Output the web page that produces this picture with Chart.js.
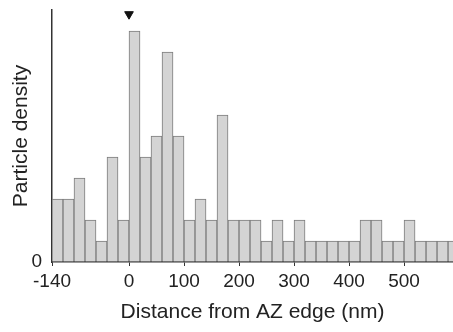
<!DOCTYPE html>
<html>
<head>
<meta charset="utf-8">
<script src="https://cdn.jsdelivr.net/npm/chart.js@4.4.0/dist/chart.umd.min.js"></script>
<style>
  html, body { margin: 0; padding: 0; background: #fff; }
</style>
</head>
<body>
<canvas id="histChart" width="453" height="332"></canvas>
<script>
// histogram bins (nm), each 20 nm wide
const binStarts = [-140, -120, -100, -80, -60, -40, -20, 0, 20, 40, 60, 80, 100, 120, 140, 160, 180, 200, 220,
    240, 260, 280, 300, 320, 340, 360, 380, 400, 420, 440, 460, 480, 500, 520, 540, 560, 580];
const binWidth = 20;
const counts = [3, 3, 4, 2, 1, 5, 2, 11, 5, 6, 10, 6, 2, 3, 2, 7, 2, 2, 2,
    1, 2, 1, 2, 1, 1, 1, 1, 1, 2, 2, 1, 1, 2, 1, 1, 1, 1];
const xTicks = [-140, 0, 100, 200, 300, 400, 500];
const yTicks = [0];
const arrowMarks = [{ x: 0, y: 11.8 }];

const textColor = "#222";
const axisColor = "#333";

// keep the plot area where we put it, ignore label overhang padding
function noPad(s) {
    s.paddingTop = 0;
    s.paddingBottom = 0;
    s.paddingLeft = 0;
    s.paddingRight = 0;
}

const ctx = document.getElementById("histChart").getContext("2d");

new Chart(ctx, {
    type: "bar",
    data: {
        datasets: [{
            type: "bar",
            data: binStarts.map((b, i) => ({ x: b + binWidth / 2, y: counts[i] })),
            backgroundColor: "#d4d4d4",
            borderColor: "#7c7c7c",
            borderWidth: 1,
            barPercentage: 1,
            categoryPercentage: 1
        }, {
            type: "scatter",
            data: arrowMarks,
            pointStyle: "triangle",
            rotation: 180,
            radius: 5,
            backgroundColor: "#111",
            borderColor: "#111",
            borderWidth: 1,
            clip: false
        }]
    },
    options: {
        responsive: false,
        animation: false,
        layout: { autoPadding: false, padding: { top: 10, right: 0, left: 0, bottom: 0 } },
        plugins: {
            legend: { display: false },
            tooltip: { enabled: false }
        },
        scales: {
            x: {
                type: "linear",
                offset: false,
                min: -140,
                max: 589,
                afterBuildTicks: s => { s.ticks = xTicks.map(v => ({ value: v })); },
                afterFit: s => { s.height = 70; noPad(s); },
                grid: {
                    offset: false,
                    drawOnChartArea: false,
                    drawTicks: true,
                    tickLength: 4,
                    color: axisColor
                },
                border: { display: true, color: axisColor, width: 1.5 },
                ticks: {
                    autoSkip: false,
                    maxRotation: 0,
                    padding: 4,
                    color: textColor,
                    font: { family: "'Liberation Sans', Arial, sans-serif", size: 19 },
                    callback: v => String(v)
                },
                title: {
                    display: true,
                    text: "Distance from AZ edge (nm)",
                    color: textColor,
                    font: { family: "'Liberation Sans', Arial, sans-serif", size: 21 },
                    padding: { top: 0, bottom: 7 }
                }
            },
            y: {
                min: 0,
                max: 12,
                afterBuildTicks: s => { s.ticks = yTicks.map(v => ({ value: v })); },
                afterFit: s => { s.width = 52; noPad(s); },
                grid: { drawOnChartArea: false, drawTicks: false },
                border: { display: true, color: axisColor, width: 1.5 },
                ticks: {
                    padding: 10,
                    color: textColor,
                    font: { family: "'Liberation Sans', Arial, sans-serif", size: 19 },
                    callback: v => String(v)
                },
                title: {
                    display: true,
                    text: "Particle density",
                    color: textColor,
                    font: { family: "'Liberation Sans', Arial, sans-serif", size: 21 },
                    padding: { top: 9, bottom: 0 }
                }
            }
        }
    }
});
</script>
</body>
</html>
